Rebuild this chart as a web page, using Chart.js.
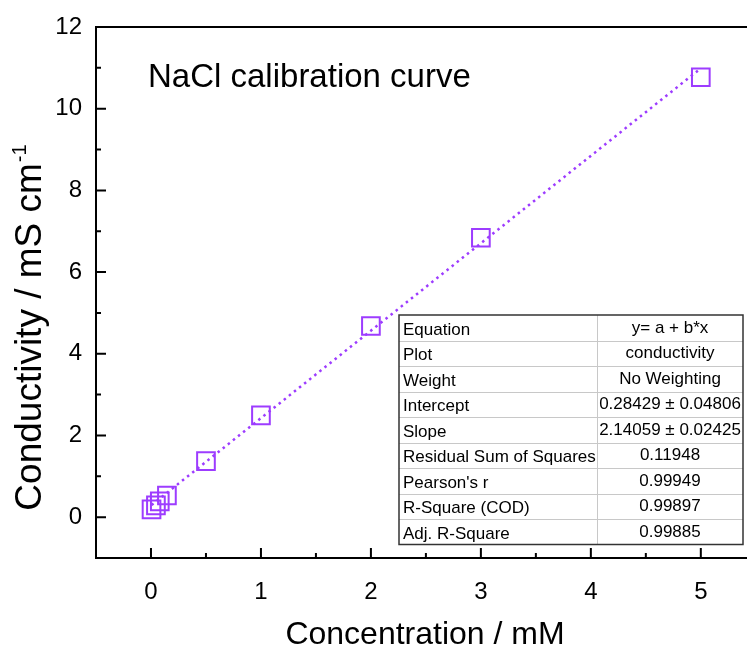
<!DOCTYPE html>
<html><head><meta charset="utf-8">
<script src="https://cdn.jsdelivr.net/npm/chart.js@4/dist/chart.umd.min.js"></script>
<style>
html,body{margin:0;padding:0;background:#fff;overflow:hidden;width:747px;height:650px}
#wrap{position:relative;width:747px;height:650px}
</style>
</head><body><div id="wrap"><canvas id="c" width="747" height="650" style="width:747px;height:650px"></canvas></div>
<script>
// ---- data ----
const concentration = [0.005, 0.045, 0.08, 0.145, 0.5, 1, 2, 3, 5];
const conductivity  = [0.19, 0.29, 0.385, 0.53, 1.37, 2.49, 4.68, 6.84, 10.77];
const fitParams = [0.28429, 2.14059]; // intercept a, slope b
const xTicks = [0, 1, 2, 3, 4, 5];
const yTicks = [0, 2, 4, 6, 8, 10, 12];
const xMinorTicks = [0.5, 1.5, 2.5, 3.5, 4.5];
const yMinorTicks = [1, 3, 5, 7, 9, 11];
const tableLabels = ["Equation", "Plot", "Weight", "Intercept", "Slope", "Residual Sum of Squares", "Pearson's r", "R-Square (COD)", "Adj. R-Square"];
const tableValues = ["y= a + b*x", "conductivity", "No Weighting", "0.28429 \u00b1 0.04806", "2.14059 \u00b1 0.02425", "0.11948", "0.99949", "0.99897", "0.99885"];
const chartTitle = "NaCl calibration curve";
const xTitle = "Concentration / mM";
const yTitleMain = "Conductivity / mS cm";
const yTitleSup = "-1";

const FONT = "'Liberation Sans', Arial, sans-serif";
const COLOR = "#9d3cff";

const fitX = [concentration[0], concentration[concentration.length - 1]];
const fitLine = fitX.map(x => ({x: x, y: fitParams[0] + fitParams[1] * x}));

const decor = {
  id: 'decor',
  beforeDatasetsDraw(chart) {
    const {ctx, chartArea: a, scales: {x, y}} = chart;
    ctx.save();
    ctx.strokeStyle = '#000';
    ctx.lineWidth = 2;
    ctx.lineCap = 'square';
    ctx.beginPath();
    ctx.moveTo(chart.width + 5, a.top);
    ctx.lineTo(a.left, a.top);
    ctx.lineTo(a.left, a.bottom);
    ctx.lineTo(chart.width + 5, a.bottom);
    ctx.stroke();
    ctx.lineCap = 'butt';
    ctx.beginPath();
    xTicks.forEach(v => { const p = x.getPixelForValue(v); ctx.moveTo(p, a.bottom); ctx.lineTo(p, a.bottom - 10); });
    xMinorTicks.forEach(v => { const p = x.getPixelForValue(v); ctx.moveTo(p, a.bottom); ctx.lineTo(p, a.bottom - 5); });
    yTicks.forEach(v => { const p = y.getPixelForValue(v); ctx.moveTo(a.left, p); ctx.lineTo(a.left + 10, p); });
    yMinorTicks.forEach(v => { const p = y.getPixelForValue(v); ctx.moveTo(a.left, p); ctx.lineTo(a.left + 5, p); });
    ctx.stroke();
    ctx.restore();
  },
  afterDraw(chart) {
    const {ctx, chartArea: a} = chart;
    ctx.save();
    ctx.fillStyle = '#000';
    // chart title
    ctx.font = "33px " + FONT;
    ctx.textAlign = 'left';
    ctx.textBaseline = 'alphabetic';
    ctx.fillText(chartTitle, 148, 87);
    // x title
    ctx.font = "32px " + FONT;
    ctx.textAlign = 'center';
    ctx.fillText(xTitle, 425, 644);
    // y title with superscript
    ctx.save();
    ctx.translate(41, 328);
    ctx.rotate(-Math.PI / 2);
    ctx.font = "37px " + FONT;
    const w1 = ctx.measureText(yTitleMain).width;
    ctx.font = "20px " + FONT;
    const w2 = ctx.measureText(yTitleSup).width;
    const start = -(w1 + w2) / 2;
    ctx.textAlign = 'left';
    ctx.font = "37px " + FONT;
    ctx.fillText(yTitleMain, start, 0);
    ctx.font = "20px " + FONT;
    ctx.fillText(yTitleSup, start + w1 + 1, -15);
    ctx.restore();
    // table
    const tl = 399, tr = 743, tc = 597, tt = 315, rh = 25.5;
    const tb = tt + rh * tableLabels.length;
    ctx.fillStyle = '#fff';
    ctx.fillRect(tl, tt, tr - tl, tb - tt);
    ctx.strokeStyle = '#c8c8c8';
    ctx.lineWidth = 1;
    ctx.beginPath();
    for (let i = 1; i < tableLabels.length; i++) {
      const yy = Math.round(tt + rh * i) + 0.5;
      ctx.moveTo(tl, yy); ctx.lineTo(tr, yy);
    }
    ctx.moveTo(tc + 0.5, tt); ctx.lineTo(tc + 0.5, tb);
    ctx.stroke();
    ctx.strokeStyle = '#333';
    ctx.lineWidth = 1.5;
    ctx.strokeRect(tl, tt, tr - tl, tb - tt);
    ctx.fillStyle = '#000';
    ctx.font = "17px " + FONT;
    ctx.textBaseline = 'alphabetic';
    tableLabels.forEach((lab, i) => {
      const base = tt + rh * i + 19.5;
      ctx.textAlign = 'left';
      ctx.fillText(lab, tl + 4, base);
      ctx.textAlign = 'center';
      ctx.fillText(tableValues[i], (tc + tr) / 2, base - 2);
    });
    ctx.restore();
  }
};

new Chart(document.getElementById('c'), {
  type: 'scatter',
  data: {
    datasets: [
      {
        data: fitLine,
        showLine: true,
        borderColor: COLOR,
        borderWidth: 2.5,
        borderDash: [2.5, 4],
        pointRadius: 0,
        fill: false,
        order: 2
      },
      {
        data: concentration.map((c, i) => ({x: c, y: conductivity[i]})),
        pointStyle: 'rect',
        pointRadius: 12.5,
        pointHoverRadius: 12.5,
        pointBorderWidth: 2,
        borderColor: COLOR,
        backgroundColor: 'rgba(0,0,0,0)',
        pointBackgroundColor: 'rgba(0,0,0,0)',
        order: 1
      }
    ]
  },
  options: {
    responsive: false,
    animation: false,
    devicePixelRatio: 1,
    layout: {autoPadding: false, padding: {top: 27, right: 0, left: 0, bottom: 0}},
    plugins: {legend: {display: false}, tooltip: {enabled: false}},
    scales: {
      x: {
        type: 'linear', min: -0.5, max: 5.42,
        afterBuildTicks: s => { s.ticks = xTicks.map(v => ({value: v})); },
        afterFit: s => { s.height = 92; s.paddingLeft = 0; s.paddingRight = 0; },
        grid: {display: false, drawTicks: false},
        border: {display: false},
        ticks: {font: {family: FONT, size: 24}, color: '#000', padding: 20, maxRotation: 0}
      },
      y: {
        type: 'linear', min: -1, max: 12,
        afterBuildTicks: s => { s.ticks = yTicks.map(v => ({value: v})); },
        afterFit: s => { s.width = 96; s.paddingTop = 0; s.paddingBottom = 0; },
        grid: {display: false, drawTicks: false},
        border: {display: false},
        ticks: {font: {family: FONT, size: 24}, color: '#000', padding: 14}
      }
    }
  },
  plugins: [decor]
});
</script>
</body></html>
